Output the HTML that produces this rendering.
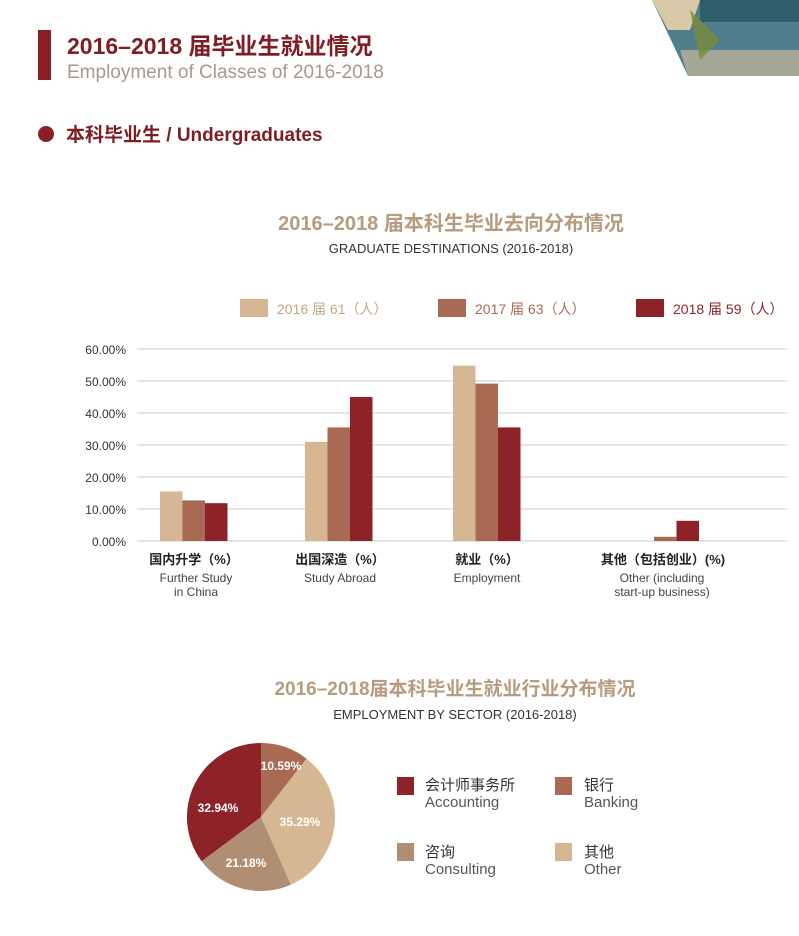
<!DOCTYPE html>
<html><head><meta charset="utf-8"><style>
body{margin:0;width:799px;height:936px;background:#fff;font-family:"Liberation Sans","Noto Sans CJK SC",sans-serif;overflow:hidden;position:relative}
.a{position:absolute;white-space:nowrap}
</style></head><body>
<svg class="a" style="left:0;top:0" width="799" height="936" xmlns="http://www.w3.org/2000/svg" font-family="Liberation Sans, Noto Sans CJK SC, sans-serif">
<!-- top-right photo -->
<polygon points="652,0 799,0 799,76 688,76" fill="#4f7f8c"/>
<polygon points="652,0 700,0 690,30 668,30" fill="#d9c9a8"/>
<rect x="700" y="0" width="99" height="22" fill="#2f5d6a"/>
<polygon points="680,50 799,50 799,76 688,76" fill="#c9b89a" opacity="0.7"/>
<polygon points="690,10 720,40 700,60" fill="#7a8a3a" opacity="0.8"/>
<!-- header -->
<rect x="38" y="30" width="13" height="50" fill="#8a1f26"/>
<text x="67" y="54" font-size="23" font-weight="bold" fill="#7f1d22">2016–2018 届毕业生就业情况</text>
<text x="67" y="78" font-size="19" fill="#a89a8c">Employment of Classes of 2016-2018</text>
<circle cx="46" cy="134" r="8" fill="#8a1f26"/>
<text x="66" y="141" font-size="19" font-weight="bold" fill="#7f1d22">本科毕业生 / Undergraduates</text>
<!-- bar chart title -->
<text x="451" y="230" font-size="20" font-weight="bold" fill="#b89a7e" text-anchor="middle">2016–2018 届本科生毕业去向分布情况</text>
<text x="451" y="253" font-size="13" fill="#333" text-anchor="middle">GRADUATE DESTINATIONS (2016-2018)</text>
<!-- legend -->
<rect x="240" y="299" width="28" height="18" fill="#d5b893"/>
<text x="277" y="314" font-size="14" fill="#c0a684">2016 届 61（人）</text>
<rect x="438" y="299" width="28" height="18" fill="#a86a52"/>
<text x="475" y="314" font-size="14" fill="#a86a52">2017 届 63（人）</text>
<rect x="636" y="299" width="28" height="18" fill="#8e2229"/>
<text x="673" y="314" font-size="14" fill="#8e2229">2018 届 59（人）</text>
<!-- grid -->
<g stroke="#dcdcdc" stroke-width="1.5">
<line x1="137" y1="349" x2="787" y2="349"/><line x1="137" y1="381" x2="787" y2="381"/>
<line x1="137" y1="413" x2="787" y2="413"/><line x1="137" y1="445" x2="787" y2="445"/>
<line x1="137" y1="477" x2="787" y2="477"/><line x1="137" y1="509" x2="787" y2="509"/>
<line x1="137" y1="541" x2="787" y2="541"/>
</g>
<g font-size="12" fill="#333" text-anchor="end">
<text x="126" y="354">60.00%</text><text x="126" y="386">50.00%</text><text x="126" y="418">40.00%</text>
<text x="126" y="450">30.00%</text><text x="126" y="482">20.00%</text><text x="126" y="514">10.00%</text><text x="126" y="546">0.00%</text>
</g>
<!-- bars: 3.2px per % -->
<rect x="160" y="491.4" width="22.5" height="49.6" fill="#d5b893"/>
<rect x="182.5" y="500.4" width="22.5" height="40.6" fill="#a86a52"/>
<rect x="205" y="503.2" width="22.5" height="37.8" fill="#8e2229"/>
<rect x="305" y="441.8" width="22.5" height="99.2" fill="#d5b893"/>
<rect x="327.5" y="427.4" width="22.5" height="113.6" fill="#a86a52"/>
<rect x="350" y="397" width="22.5" height="144" fill="#8e2229"/>
<rect x="453" y="365.6" width="22.5" height="175.4" fill="#d5b893"/>
<rect x="475.5" y="383.6" width="22.5" height="157.4" fill="#a86a52"/>
<rect x="498" y="427.4" width="22.5" height="113.6" fill="#8e2229"/>
<rect x="654" y="536.8" width="22.5" height="4.2" fill="#a86a52"/>
<rect x="676.5" y="520.8" width="22.5" height="20.2" fill="#8e2229"/>
<!-- category labels -->
<g font-size="13" text-anchor="middle" fill="#222">
<text x="194" y="564" font-weight="bold">国内升学（%）</text>
<text x="340" y="564" font-weight="bold">出国深造（%）</text>
<text x="487" y="564" font-weight="bold">就业（%）</text>
<text x="663" y="564" font-weight="bold">其他（包括创业）(%)</text>
</g>
<g font-size="12" text-anchor="middle" fill="#444">
<text x="196" y="582">Further Study</text><text x="196" y="596">in China</text>
<text x="340" y="582">Study Abroad</text>
<text x="487" y="582">Employment</text>
<text x="662" y="582">Other (including</text><text x="662" y="596">start-up business)</text>
</g>
<!-- pie title -->
<text x="455" y="695" font-size="19" font-weight="bold" fill="#b89a7e" text-anchor="middle">2016–2018届本科毕业生就业行业分布情况</text>
<text x="455" y="719" font-size="13" fill="#333" text-anchor="middle">EMPLOYMENT BY SECTOR (2016-2018)</text>
<!-- pie center 261,817 r74 -->
<path d="M261,817 L261,743 A74,74 0 0 1 306.6,758.7 Z" fill="#a86a52"/>
<path d="M261,817 L306.6,758.7 A74,74 0 0 1 290.9,884.7 Z" fill="#d5b893"/>
<path d="M261,817 L290.9,884.7 A74,74 0 0 1 201.6,861.2 Z" fill="#b08e74"/>
<path d="M261,817 L201.6,861.2 A74,74 0 0 1 261,743 Z" fill="#8e2229"/>
<g font-size="12" font-weight="bold" fill="#fff" text-anchor="middle">
<text x="281" y="770">10.59%</text><text x="300" y="826">35.29%</text>
<text x="246" y="867">21.18%</text><text x="218" y="812">32.94%</text>
</g>
<!-- pie legend -->
<rect x="397" y="777" width="17" height="18" fill="#8e2229"/>
<text x="425" y="790" font-size="15" fill="#333">会计师事务所</text>
<text x="425" y="807" font-size="15" fill="#555">Accounting</text>
<rect x="555" y="777" width="17" height="18" fill="#a86a52"/>
<text x="584" y="790" font-size="15" fill="#333">银行</text>
<text x="584" y="807" font-size="15" fill="#555">Banking</text>
<rect x="397" y="843" width="17" height="18" fill="#b08e74"/>
<text x="425" y="857" font-size="15" fill="#333">咨询</text>
<text x="425" y="874" font-size="15" fill="#555">Consulting</text>
<rect x="555" y="843" width="17" height="18" fill="#d5b893"/>
<text x="584" y="857" font-size="15" fill="#333">其他</text>
<text x="584" y="874" font-size="15" fill="#555">Other</text>
</svg>
</body></html>
